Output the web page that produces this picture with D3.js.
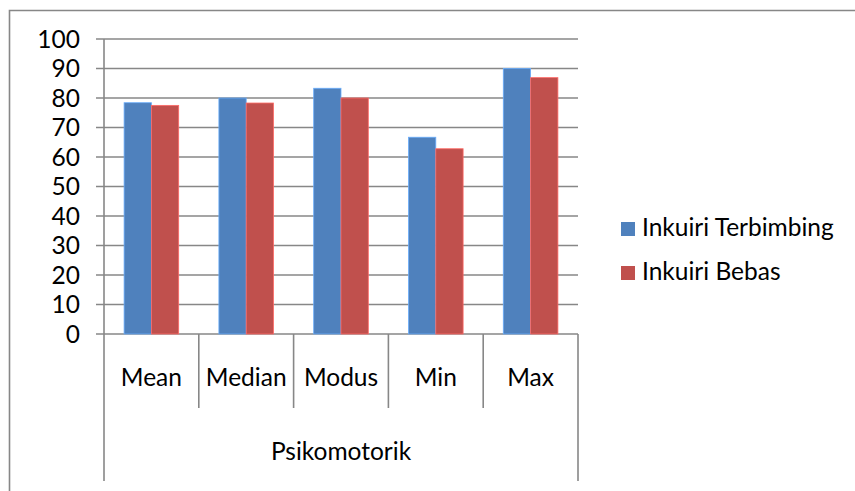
<!DOCTYPE html>
<html>
<head>
<meta charset="utf-8">
<script src="https://cdn.jsdelivr.net/npm/d3@7"></script>
<style>
  html, body { margin: 0; padding: 0; background: #fff; }
  svg { display: block; }
  text { font-family: Lato, "Open Sans", sans-serif; fill: #000; }
</style>
</head>
<body>
<svg id="chart" width="855" height="491"></svg>
<script>
// Psikomotorik scores by statistic for the two inquiry models
const categories = ["Mean", "Median", "Modus", "Min", "Max"];
const groupLabel = "Psikomotorik";
const seriesNames = ["Inkuiri Terbimbing", "Inkuiri Bebas"];
const terbimbing = [78.4, 80, 83.3, 66.7, 90];
const bebas = [77.5, 78.3, 80, 62.8, 86.9];
const yTicks = [0, 10, 20, 30, 40, 50, 60, 70, 80, 90, 100];
const colors = ["#4F81BD", "#C0504D"];

const svg = d3.select("#chart");
const gridColor = "#878787";
const fontSize = 24.5;

// Plot area
const plotLeft = 104, plotRight = 578, plotTop = 39, plotBottom = 334;

// Outer chart frame (extends past the visible area on the right and bottom)
svg.append("path")
  .attr("d", `M9.5,495 V10.5 H860`)
  .attr("fill", "none")
  .attr("stroke", gridColor)
  .attr("stroke-width", 1.6);

const x = d3.scaleBand().domain(categories).range([plotLeft, plotRight]).paddingInner(0).paddingOuter(0);
const y = d3.scaleLinear().domain([0, 100]).range([plotBottom, plotTop]);
const inner = d3.scaleBand().domain([0, 1]).range([0, x.bandwidth()]).paddingInner(0).paddingOuter(0.736);

// Gridlines (with ticks extending left of the axis)
svg.append("g")
  .selectAll("line")
  .data(yTicks)
  .join("line")
  .attr("x1", plotLeft - 8).attr("x2", plotRight)
  .attr("y1", d => y(d)).attr("y2", d => y(d))
  .attr("stroke", gridColor)
  .attr("stroke-width", 1.6);

// Y tick labels
svg.append("g")
  .selectAll("text")
  .data(yTicks)
  .join("text")
  .attr("x", 80)
  .attr("y", d => y(d))
  .attr("dy", "0.36em")
  .attr("text-anchor", "end")
  .attr("font-size", fontSize)
  .text(d => d);

// Bars
const rows = categories.map((c, i) => ({ c, vals: [terbimbing[i], bebas[i]] }));
const groups = svg.append("g")
  .selectAll("g")
  .data(rows)
  .join("g")
  .attr("transform", d => `translate(${x(d.c)},0)`);
groups.selectAll("rect")
  .data(d => d.vals.map((v, k) => ({ v, k })))
  .join("rect")
  .attr("x", d => inner(d.k))
  .attr("width", inner.bandwidth())
  .attr("y", d => y(d.v))
  .attr("height", d => y(0) - y(d.v))
  .attr("fill", d => colors[d.k])
  .attr("stroke", d => d3.color(colors[d.k]).brighter(0.8))
  .attr("stroke-width", 0.8);

// Y axis line
svg.append("line")
  .attr("x1", plotLeft).attr("x2", plotLeft)
  .attr("y1", plotTop).attr("y2", plotBottom)
  .attr("stroke", gridColor).attr("stroke-width", 1.6);

// Category dividers below the axis: inner ones short, outer ones span the group row
const edges = categories.map(c => x(c)).concat([plotRight]);
svg.append("g")
  .selectAll("line")
  .data(edges)
  .join("line")
  .attr("x1", d => d).attr("x2", d => d)
  .attr("y1", plotBottom)
  .attr("y2", (d, i) => (i === 0 || i === edges.length - 1) ? 481 : 408)
  .attr("stroke", gridColor)
  .attr("stroke-width", 1.6);

// Category labels
svg.append("g")
  .selectAll("text")
  .data(categories)
  .join("text")
  .attr("x", d => x(d) + x.bandwidth() / 2)
  .attr("y", 386)
  .attr("text-anchor", "middle")
  .attr("font-size", fontSize)
  .text(d => d);

// Group label
svg.append("text")
  .attr("x", (plotLeft + plotRight) / 2)
  .attr("y", 460)
  .attr("text-anchor", "middle")
  .attr("font-size", fontSize)
  .text(groupLabel);

// Legend
const legend = svg.append("g")
  .selectAll("g")
  .data(seriesNames)
  .join("g")
  .attr("transform", (d, i) => `translate(621,${222 + i * 44})`);
legend.append("rect")
  .attr("width", 14).attr("height", 14)
  .attr("fill", (d, i) => colors[i]);
legend.append("text")
  .attr("x", 21)
  .attr("y", 14)
  .attr("font-size", fontSize)
  .text(d => d);
</script>
</body>
</html>
